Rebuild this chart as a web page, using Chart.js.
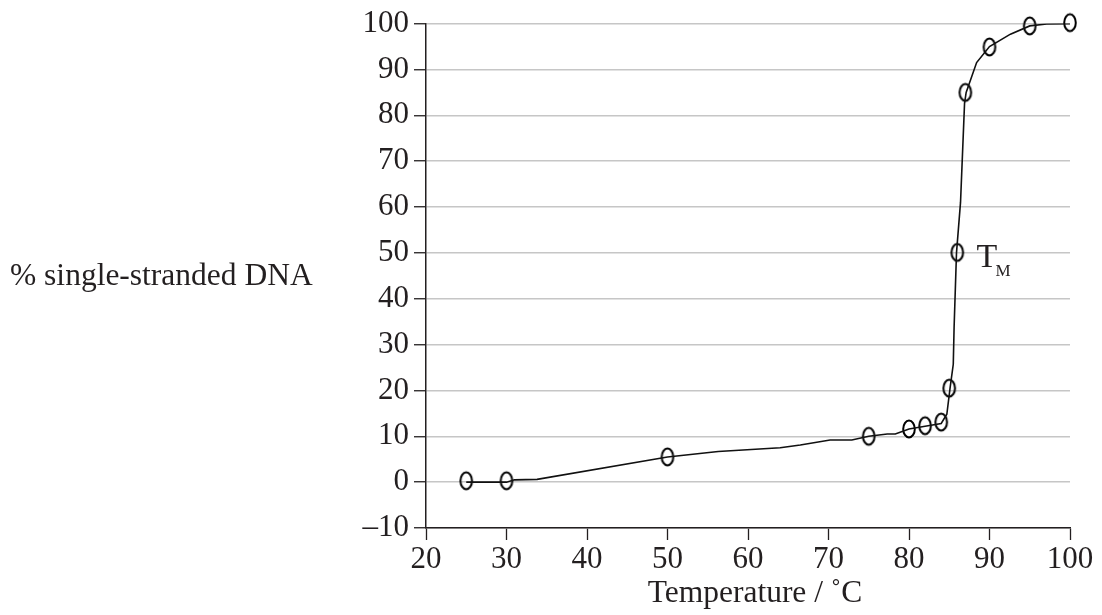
<!DOCTYPE html>
<html>
<head>
<meta charset="utf-8">
<title>DNA melting curve</title>
<script src="https://cdn.jsdelivr.net/npm/chart.js@4.4.1/dist/chart.umd.min.js"></script>
<style>
  html, body { margin: 0; padding: 0; background: #fff; }
  #wrap { width: 1102px; height: 615px; position: relative; }
</style>
</head>
<body>
<div id="wrap"><canvas id="meltChart"></canvas></div>
<script>
// measured points (circled)
const measuredTemp = [25, 30, 50, 75, 80, 82, 84, 85, 86, 87, 90, 95, 100];
const measuredPct = [0.3, 0.3, 5.5, 10, 11.6, 12.3, 13.1, 20.5, 50.1, 85, 94.9, 99.5, 100.2];

// hand-drawn curve through them
const curveTemp = [25, 30, 31, 33.8, 50, 56.3, 64, 66.5, 70.2, 72.9, 75, 77.3, 78.3, 80, 82, 84, 84.7, 85.1, 85.5, 85.6, 85.9, 86.4, 86.9, 87.1, 88.4, 90, 92.6, 95, 97.1, 100];
const curvePct = [0, 0, 0.5, 0.6, 5.5, 6.7, 7.5, 8.1, 9.2, 9.2, 10, 10.5, 10.5, 11.6, 12.2, 12.8, 14.8, 20.5, 25.7, 33.6, 50, 61, 82.6, 85, 91.5, 95, 97.7, 99.5, 99.9, 100];

const xTicks = [20, 30, 40, 50, 60, 70, 80, 90, 100];
const yTicks = [-10, 0, 10, 20, 30, 40, 50, 60, 70, 80, 90, 100];

const xTitle = 'Temperature / ˚C';
const yTitle = '% single-stranded DNA';

const ink = '#231f20';
const serif = '"Liberation Serif", "Times New Roman", serif';
Chart.defaults.font.family = serif;
Chart.defaults.color = ink;

// open vertical ellipse used as the marker
const ring = document.createElement('canvas');
ring.width = 16;
ring.height = 22;
const rc = ring.getContext('2d');
rc.strokeStyle = '#000';
rc.lineWidth = 2;
rc.beginPath();
rc.ellipse(8, 11, 5.8, 8.4, 0, 0, Math.PI * 2);
rc.stroke();

const labelsPlugin = {
    id: 'labels',
    afterDraw(chart) {
        const { ctx, chartArea, scales } = chart;
        ctx.save();
        ctx.fillStyle = ink;

        // y title, written horizontally at the far left
        ctx.font = '31.5px ' + serif;
        ctx.textAlign = 'left';
        ctx.textBaseline = 'middle';
        ctx.fillText(yTitle, 10, (chartArea.top + chartArea.bottom) / 2 + 1);

        // x title
        ctx.textAlign = 'center';
        ctx.fillText(xTitle, (chartArea.left + chartArea.right) / 2 + 7, 594);

        // T_M next to the midpoint
        const tx = scales.x.getPixelForValue(88.4);
        const ty = scales.y.getPixelForValue(47);
        ctx.textAlign = 'left';
        ctx.textBaseline = 'alphabetic';
        ctx.font = '34px ' + serif;
        ctx.fillText('T', tx, ty);
        const w = ctx.measureText('T').width;
        ctx.font = '17px ' + serif;
        ctx.fillText('M', tx + w - 2, ty + 9);
        ctx.restore();
    }
};

new Chart(document.getElementById('meltChart'), {
    type: 'scatter',
    data: {
        datasets: [
            {
                label: 'curve',
                data: curveTemp.map((t, i) => ({ x: t, y: curvePct[i] })),
                showLine: true,
                borderColor: '#111',
                borderWidth: 1.6,
                pointRadius: 0,
                tension: 0,
            },
            {
                label: 'measured',
                data: measuredTemp.map((t, i) => ({ x: t, y: measuredPct[i] })),
                showLine: false,
                pointStyle: ring,
                pointRadius: 8,
                clip: false,
            },
        ],
    },
    options: {
        responsive: true,
        maintainAspectRatio: false,
        animation: false,
        layout: { padding: { top: 21, right: 32, left: 0, bottom: 0 } },
        plugins: {
            legend: { display: false },
            tooltip: { enabled: false },
        },
        scales: {
            x: {
                type: 'linear',
                min: 20,
                max: 100,
                afterBuildTicks: (scale) => { scale.ticks = xTicks.map(v => ({ value: v })); },
                afterFit: (scale) => { scale.height = 87; },
                ticks: {
                    font: { size: 31 },
                    color: ink,
                    padding: 1,
                    maxRotation: 0,
                    autoSkip: false,
                },
                grid: {
                    drawOnChartArea: false,
                    drawTicks: true,
                    tickLength: 12,
                    tickColor: ink,
                    tickWidth: 1.3,
                },
                border: { color: ink, width: 1.5 },
            },
            y: {
                type: 'linear',
                min: -10,
                max: 100,
                afterBuildTicks: (scale) => { scale.ticks = yTicks.map(v => ({ value: v })); },
                afterFit: (scale) => { scale.width = 426; },
                ticks: {
                    font: { size: 31 },
                    color: ink,
                    padding: 5,
                    autoSkip: false,
                    callback: (v) => (v < 0 ? '\u2013' + Math.abs(v) : String(v)),
                },
                grid: {
                    color: '#c6c6c6',
                    lineWidth: 1.5,
                    drawTicks: true,
                    tickLength: 12,
                    tickColor: ink,
                    tickWidth: 1.3,
                },
                border: { color: ink, width: 1.5 },
            },
        },
    },
    plugins: [labelsPlugin],
});
</script>
</body>
</html>
